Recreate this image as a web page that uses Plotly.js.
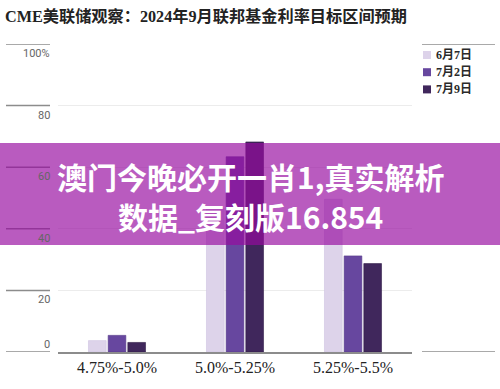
<!DOCTYPE html>
<html>
<head>
<meta charset="utf-8">
<script src="https://cdn.plot.ly/plotly-3.0.1.min.js"></script>
<style>html,body{margin:0;padding:0;background:#fff;}#chart{width:500px;height:389px;}</style>
</head>
<body>
<div id="chart"></div>
<script>
// ---- data ----
const categories = ['4.75%-5.0%', '5.0%-5.25%', '5.25%-5.5%'];
const seriesNames = ['6月7日', '7月2日', '7月9日'];
const june7 = [3.7, 46.7, 49.6];
const july2 = [5.4, 63.4, 31.2];
const july9 = [3.1, 68.2, 28.7];
const yTickVals = [0, 20, 40, 60, 80, 100];
const yTickText = ['0', '20', '40', '60', '80', '100%'];
const titleText = 'CME美联储观察：2024年9月联邦基金利率目标区间预期';
const bannerLines = ['澳门今晚必开一肖1,真实解析', '数据_复刻版16.854'];

// ---- style ----
const colors = ['#ddd3ea', '#67479f', '#40275c'];
const edge = ['#cfc3e0', '#553a8a', '#301c48'];
const W = 500, H = 389;
const L = 58, R = 412, T = 44, B = 352;
const pw = R - L, ph = B - T;
const px = x => (x - L) / pw;   // pixel -> paper x
const py = y => (B - y) / ph;   // pixel -> paper y

const allValues = [june7, july2, july9];
const traces = allValues.map((vals, i) => ({
  type: 'bar',
  name: seriesNames[i],
  x: categories,
  y: vals,
  marker: {color: colors[i], line: {color: edge[i], width: 0.6}},
  showlegend: false,
  hoverinfo: 'skip'
}));

const shapes = [];
const annotations = [];

// left tick segments + labels (labels sit below their line, the bottom one above)
yTickVals.forEach((v, i) => {
  shapes.push({type: 'line', xref: 'paper', yref: 'y', x0: px(6), x1: px(50), y0: v, y1: v,
    line: {color: '#8c8c8c', width: 1.5}});
  const bottom = (i === 0);
  annotations.push({xref: 'paper', yref: 'y', x: px(51), y: v, xanchor: 'right',
    yanchor: bottom ? 'bottom' : 'top', yshift: bottom ? 0 : -2, showarrow: false, text: yTickText[i],
    borderpad: 0,
    font: {family: 'Liberation Sans Narrow, Roboto, sans-serif', size: 11, color: '#666'}});
});

// right-side frame lines (legend column)
[0, 100].forEach(v => {
  shapes.push({type: 'line', xref: 'paper', yref: 'y', x0: px(422), x1: px(495), y0: v, y1: v,
    line: {color: '#8c8c8c', width: 1.5}});
});

// custom legend
seriesNames.forEach((n, i) => {
  const cy = 55 + i * 17.2;
  shapes.push({type: 'rect', xref: 'paper', yref: 'paper', x0: px(423), x1: px(431),
    y0: py(cy + 4), y1: py(cy - 4), fillcolor: colors[i], line: {width: 0}});
  annotations.push({xref: 'paper', yref: 'paper', x: px(434), y: py(cy), xanchor: 'left', yanchor: 'middle',
    showarrow: false, text: '<b>' + n + '</b>',
    font: {family: 'Liberation Serif, Noto Sans CJK SC, serif', size: 12, color: '#2a2a2a'}});
});

// overlay banner
shapes.push({type: 'rect', xref: 'paper', yref: 'paper', x0: px(0), x1: px(500), y0: py(245), y1: py(143),
  fillcolor: 'rgba(150,10,160,0.67)', line: {width: 0}, layer: 'above'});
bannerLines.forEach((t, i) => {
  annotations.push({xref: 'paper', yref: 'paper', x: px(250), y: py(176 + i * 40), xanchor: 'center',
    yanchor: 'middle', showarrow: false, text: '<b>' + t + '</b>', borderpad: 0,
    font: {family: 'Noto Sans CJK SC, sans-serif', size: 30, color: '#ffffff'}});
});

const layout = {
  width: W, height: H,
  margin: {l: L, r: W - R, t: T, b: H - B, pad: 0},
  paper_bgcolor: '#ffffff', plot_bgcolor: '#ffffff',
  title: {text: '<b>' + titleText + '</b>', xref: 'container', yref: 'container', x: 5 / W, xanchor: 'left',
    y: 1 - 16 / H, yanchor: 'middle',
    font: {family: 'Liberation Serif, Noto Sans CJK SC, serif', size: 16.2, color: '#222'}},
  barmode: 'group',
  bargap: 0.5,
  bargroupgap: 0.1,
  showlegend: false,
  xaxis: {type: 'category', showgrid: false, zeroline: false, showline: true, linecolor: '#8c8c8c', linewidth: 1.5,
    ticks: '', tickfont: {family: 'Liberation Serif, serif', size: 16, color: '#222'}, fixedrange: true},
  yaxis: {range: [0, 100], tickvals: yTickVals, showticklabels: false, showgrid: true, gridcolor: '#ececec',
    gridwidth: 1, zeroline: false, showline: false, ticks: '', fixedrange: true},
  shapes: shapes,
  annotations: annotations
};

Plotly.newPlot('chart', traces, layout, {staticPlot: true, displayModeBar: false});
</script>
</body>
</html>
